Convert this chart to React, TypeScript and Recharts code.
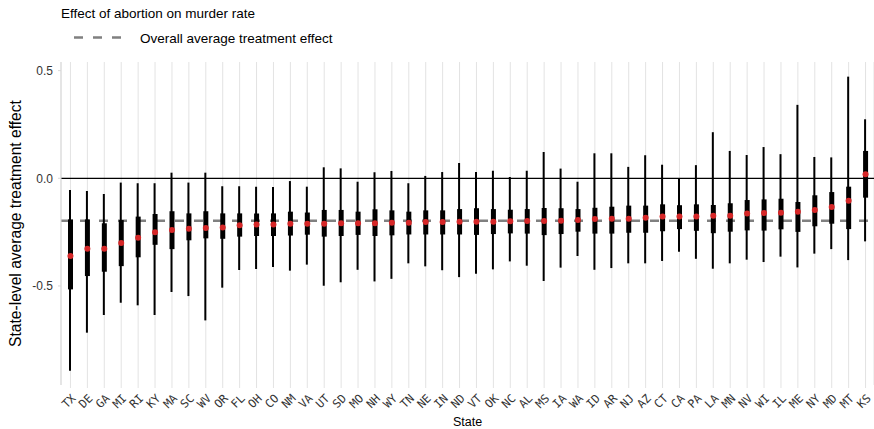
import { ComposedChart, Bar, Line, XAxis, YAxis, CartesianGrid, ReferenceLine } from "recharts"

const states = [
  "TX", "DE", "GA", "MI", "RI", "KY", "MA", "SC", "WV", "OR", "FL", "OH", "CO", "NM", "VA", "UT",
  "SD", "MO", "NH", "WY", "TN", "NE", "IN", "ND", "VT", "OK", "NC", "AL", "MS", "IA", "WA", "ID",
  "AR", "NJ", "AZ", "CT", "CA", "PA", "LA", "MN", "NV", "WI", "IL", "ME", "NY", "MD", "MT", "KS",
]

const upper95 = [
  -0.054, -0.059, -0.073, -0.02, -0.023, -0.023, 0.026, -0.02, 0.026, -0.037, -0.037, -0.039, -0.04, -0.013, -0.039, 0.051,
  0.046, -0.016, 0.028, 0.034, -0.023, 0.011, 0.029, 0.071, 0.029, 0.035, 0.006, 0.035, 0.122, 0.045, -0.016, 0.116,
  0.116, 0.053, 0.107, 0.063, 0.0, 0.061, 0.214, 0.127, 0.108, 0.145, 0.112, 0.341, 0.099, 0.097, 0.472, 0.274,
]
const upper50 = [
  -0.191, -0.191, -0.209, -0.194, -0.178, -0.166, -0.153, -0.163, -0.153, -0.163, -0.163, -0.163, -0.163, -0.155, -0.159, -0.147,
  -0.147, -0.155, -0.144, -0.149, -0.155, -0.149, -0.149, -0.143, -0.139, -0.143, -0.146, -0.143, -0.138, -0.139, -0.143, -0.137,
  -0.132, -0.127, -0.127, -0.121, -0.125, -0.121, -0.124, -0.116, -0.101, -0.098, -0.095, -0.11, -0.079, -0.064, -0.039, 0.127,
]
const means = [
  -0.361, -0.327, -0.327, -0.301, -0.276, -0.251, -0.24, -0.234, -0.231, -0.229, -0.218, -0.215, -0.215, -0.211, -0.211, -0.211,
  -0.209, -0.209, -0.209, -0.207, -0.206, -0.203, -0.203, -0.202, -0.202, -0.202, -0.2, -0.198, -0.198, -0.197, -0.194, -0.189,
  -0.188, -0.188, -0.183, -0.178, -0.177, -0.177, -0.174, -0.174, -0.164, -0.161, -0.16, -0.155, -0.147, -0.133, -0.104, 0.019,
]
const lower50 = [
  -0.516, -0.454, -0.434, -0.408, -0.367, -0.309, -0.329, -0.288, -0.279, -0.281, -0.271, -0.268, -0.268, -0.266, -0.262, -0.271,
  -0.268, -0.263, -0.268, -0.265, -0.261, -0.261, -0.261, -0.261, -0.263, -0.259, -0.256, -0.257, -0.264, -0.259, -0.248, -0.257,
  -0.257, -0.253, -0.253, -0.246, -0.236, -0.244, -0.255, -0.248, -0.242, -0.243, -0.237, -0.249, -0.223, -0.211, -0.236, -0.09,
]
const lower95 = [
  -0.894, -0.717, -0.635, -0.578, -0.59, -0.635, -0.528, -0.547, -0.66, -0.508, -0.426, -0.421, -0.412, -0.429, -0.401, -0.499,
  -0.483, -0.425, -0.479, -0.467, -0.395, -0.409, -0.427, -0.459, -0.443, -0.423, -0.386, -0.406, -0.477, -0.415, -0.361, -0.425,
  -0.417, -0.395, -0.395, -0.384, -0.341, -0.374, -0.42, -0.395, -0.378, -0.389, -0.364, -0.414, -0.35, -0.329, -0.38, -0.293,
]
const overallEffect = -0.197
const yTicks = [-0.5, 0, 0.5]

const data = states.map((state, i) => ({
  state,
  outer: [lower95[i], upper95[i]],
  inner: [lower50[i], upper50[i]],
  mean: means[i],
}))

const sans = "'Liberation Sans', Arial, sans-serif"

function StateTick(props: any) {
  const { x, y, payload } = props
  return (
    <g transform={`translate(${x},${y})`}>
      <text
        x={6}
        y={9}
        transform="rotate(-45 6 9)"
        textAnchor="end"
        fontFamily="'DejaVu Sans Mono', monospace"
        fontSize={11.5}
        fill="#333"
      >
        {payload.value}
      </text>
    </g>
  )
}

function YTitle(props: any) {
  const { viewBox } = props
  const cy = viewBox.y + viewBox.height / 2
  return (
    <text
      x={21}
      y={cy}
      transform={`rotate(-90 21 ${cy})`}
      textAnchor="middle"
      fontFamily={sans}
      fontSize={15.6}
      fill="#000"
    >
      State-level average treatment effect
    </text>
  )
}

function XTitle(props: any) {
  const { viewBox } = props
  const cx = viewBox.x + viewBox.width / 2
  return (
    <text x={cx} y={425.5} textAnchor="middle" fontFamily={sans} fontSize={12.5} fill="#000">
      State
    </text>
  )
}

export default function App() {
  return (
    <div style={{ position: "absolute", left: 0, top: 0, width: 874, height: 429, background: "#fff" }}>
      <svg width={874} height={50} style={{ position: "absolute", left: 0, top: 0 }}>
        <text x={61} y={18} fontFamily={sans} fontSize={13.5} fill="#000">
          Effect of abortion on murder rate
        </text>
        <line x1={74} x2={123} y1={37.5} y2={37.5} stroke="#808080" strokeWidth={2.5} strokeDasharray="9 10" />
        <text x={140} y={42.5} fontFamily={sans} fontSize={13.5} fill="#000">
          Overall average treatment effect
        </text>
      </svg>
      <ComposedChart
        width={874}
        height={429}
        data={data}
        margin={{ top: 62, right: 0, bottom: 0, left: 0 }}
        style={{ position: "absolute", left: 0, top: 0 }}
      >
        <CartesianGrid horizontal={false} stroke="#e3e3e3" strokeWidth={1} />
        <XAxis
          dataKey="state"
          interval={0}
          height={44}
          padding={{ left: 1, right: 0 }}
          axisLine={false}
          tickSize={3}
          tickLine={{ stroke: "#e3e3e3" }}
          tick={(p: any) => <StateTick {...p} />}
          label={{ content: (p: any) => <XTitle {...p} /> }}
        />
        <XAxis xAxisId="inner" dataKey="state" hide padding={{ left: 1, right: 0 }} />
        <YAxis
          type="number"
          domain={[-0.96, 0.54]}
          ticks={yTicks}
          width={61}
          tickSize={3}
          tickMargin={5}
          tickFormatter={(v: number) => v.toFixed(1)}
          axisLine={{ stroke: "#d9d9d9" }}
          tickLine={{ stroke: "#d9d9d9" }}
          tick={{ fill: "#333", fontSize: 12, fontFamily: sans }}
          label={{ content: (p: any) => <YTitle {...p} /> }}
        />
        <ReferenceLine y={0} stroke="#000" strokeWidth={1.2} zIndex={0} />
        <ReferenceLine y={overallEffect} stroke="#808080" strokeWidth={2.5} strokeDasharray="9 10" zIndex={0} />
        <Bar dataKey="outer" barSize={2} fill="#000" isAnimationActive={false} />
        <Bar dataKey="inner" xAxisId="inner" barSize={5} fill="#000" isAnimationActive={false} />
        <Line
          dataKey="mean"
          stroke="none"
          dot={{ r: 3, fill: "#d62728", stroke: "none" }}
          activeDot={false}
          isAnimationActive={false}
        />
      </ComposedChart>
    </div>
  )
}
